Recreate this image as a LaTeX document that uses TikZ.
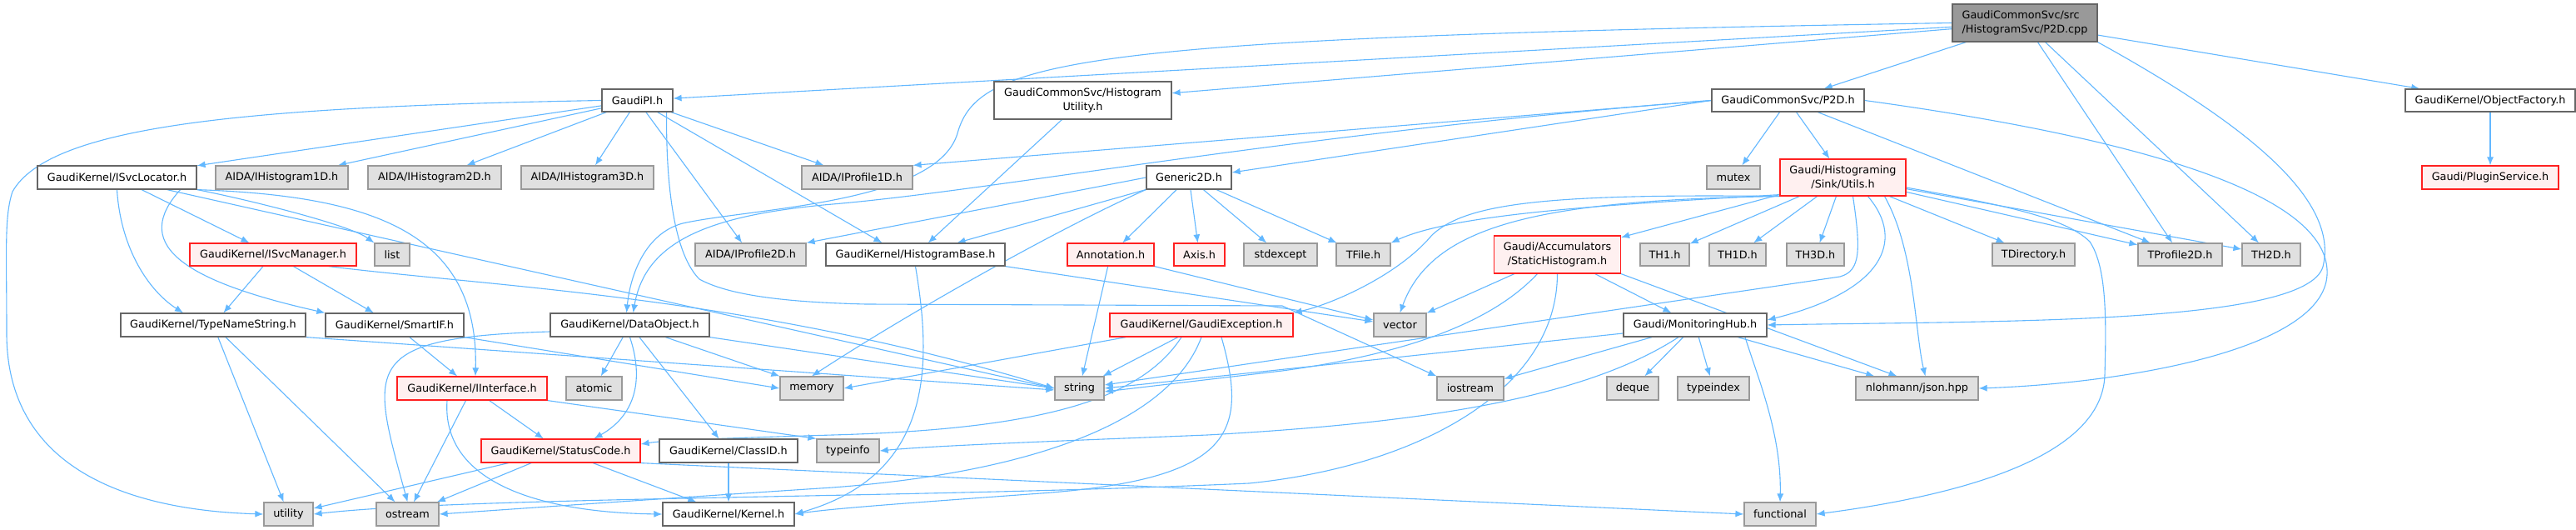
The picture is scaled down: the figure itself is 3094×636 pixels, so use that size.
\documentclass[tikz,border=0pt]{standalone}
\usepackage{fontspec}
\newfontfamily\dfont{DejaVu Sans}
\usetikzlibrary{arrows.meta}
\definecolor{edgec}{HTML}{63B8FF}
\definecolor{nb}{HTML}{666666}
\definecolor{gb}{HTML}{999999}
\definecolor{gf}{HTML}{E0E0E0}
\definecolor{rb}{HTML}{FF2020}
\definecolor{rf}{HTML}{FFF0F0}
\definecolor{rootf}{HTML}{999999}
\pgfdeclarelayer{bg}
\pgfsetlayers{bg,main}
\tikzset{
  base/.style={rectangle, inner sep=0pt, text=black, line width=0.6pt,
    font={\dfont\fontsize{6.4}{8.3}\selectfont}, minimum height=14pt},
  nw/.style={base, draw=nb, fill=white},
  ng/.style={base, draw=gb, fill=gf},
  nr/.style={base, draw=rb, fill=rf},
  nroot/.style={base, draw=nb, fill=rootf, align=left},
  e/.style={draw=edgec, line width=0.55pt, -{Latex[length=5pt,width=4pt]}},
}
\begin{document}
\begin{tikzpicture}[x=0.5pt,y=-0.5pt]
\useasboundingbox (0,0) rectangle (3094,636);
% ---------------- nodes
\node[nroot, minimum width=87pt, minimum height=22.5pt] (root) at (2432,27.5) {GaudiCommonSvc/src\\/HistogramSvc/P2D.cpp};
\node[nw, minimum width=42.5pt, minimum height=13.5pt] (pi) at (765.5,120.5) {GaudiPI.h};
\node[nw, minimum width=106.5pt, minimum height=22.5pt, align=center] (hu) at (1300.5,120.5) {GaudiCommonSvc/Histogram\\Utility.h};
\node[nw, minimum width=91.5pt, minimum height=13.5pt] (p2d) at (2147.5,120.5) {GaudiCommonSvc/P2D.h};
\node[nw, minimum width=102pt, minimum height=13.5pt] (of) at (2991,120.5) {GaudiKernel/ObjectFactory.h};
% row 2
\node[nw, minimum width=95.5pt] (isl) at (140.5,213) {GaudiKernel/ISvcLocator.h};
\node[ng, minimum width=79.5pt] (ih1) at (338.5,213) {AIDA/IHistogram1D.h};
\node[ng, minimum width=80pt] (ih2) at (522,213) {AIDA/IHistogram2D.h};
\node[ng, minimum width=79.5pt] (ih3) at (705.5,213) {AIDA/IHistogram3D.h};
\node[ng, minimum width=66.5pt] (ip1) at (1029.5,213) {AIDA/IProfile1D.h};
\node[nw, minimum width=51pt] (g2d) at (1428,213) {Generic2D.h};
\node[ng, minimum width=32pt] (mutex) at (2082,213) {mutex};
\node[nr, minimum width=75.5pt, minimum height=22pt, align=center] (utils) at (2213.5,213) {Gaudi/Histograming\\/Sink/Utils.h};
\node[nr, minimum width=82pt] (ps) at (2991,213) {Gaudi/PluginService.h};
% row 3
\node[nr, minimum width=100pt, minimum height=13.5pt] (ism) at (328,305.5) {GaudiKernel/ISvcManager.h};
\node[ng, minimum width=21pt, minimum height=13.5pt] (list) at (471,305.5) {list};
\node[ng, minimum width=66.5pt, minimum height=13.5pt] (ip2) at (901.5,305.5) {AIDA/IProfile2D.h};
\node[nw, minimum width=107.5pt, minimum height=13.5pt] (hb) at (1099.5,305.5) {GaudiKernel/HistogramBase.h};
\node[nr, minimum width=52pt, minimum height=13.5pt] (ann) at (1334,305.5) {Annotation.h};
\node[nr, minimum width=30.5pt, minimum height=13.5pt] (axis) at (1440.5,305.5) {Axis.h};
\node[ng, minimum width=44pt, minimum height=13.5pt] (stdexcept) at (1538,305.5) {stdexcept};
\node[ng, minimum width=32.5pt, minimum height=13.5pt] (tfile) at (1637.5,305.5) {TFile.h};
\node[nr, minimum width=76pt, minimum height=22.5pt, align=center] (sh) at (1870.5,305.5) {Gaudi/Accumulators\\/StaticHistogram.h};
\node[ng, minimum width=29.5pt, minimum height=13.5pt] (th1) at (1999.5,305.5) {TH1.h};
\node[ng, minimum width=34pt, minimum height=13.5pt] (th1d) at (2087,305.5) {TH1D.h};
\node[ng, minimum width=34.5pt, minimum height=13.5pt] (th3d) at (2180.5,305.5) {TH3D.h};
\node[ng, minimum width=49.5pt, minimum height=13.5pt] (tdir) at (2442.5,305.5) {TDirectory.h};
\node[ng, minimum width=50.5pt, minimum height=13.5pt] (tp2d) at (2618.5,305.5) {TProfile2D.h};
\node[ng, minimum width=35pt, minimum height=13.5pt] (th2d) at (2728,305.5) {TH2D.h};
% row 4
\node[nw, minimum width=111pt] (tns) at (256,390) {GaudiKernel/TypeNameString.h};
\node[nw, minimum width=83pt] (sif) at (474,390) {GaudiKernel/SmartIF.h};
\node[nw, minimum width=95.5pt] (dobj) at (756.5,390) {GaudiKernel/DataObject.h};
\node[nr, minimum width=110pt] (gex) at (1443,390) {GaudiKernel/GaudiException.h};
\node[ng, minimum width=31.5pt] (vector) at (1681.5,390) {vector};
\node[nw, minimum width=86pt] (mh) at (2036,390) {Gaudi/MonitoringHub.h};
% row 5
\node[nr, minimum width=90pt] (iif) at (567,466) {GaudiKernel/IInterface.h};
\node[ng, minimum width=33.5pt] (atomic) at (713.5,466) {atomic};
\node[ng, minimum width=38pt] (memory) at (975,466) {memory};
\node[ng, minimum width=29.5pt] (string) at (1296.5,466) {string};
\node[ng, minimum width=40pt] (iostream) at (1766,466) {iostream};
\node[ng, minimum width=31pt] (deque) at (1961,466) {deque};
\node[ng, minimum width=43pt] (typeindex) at (2058,466) {typeindex};
\node[ng, minimum width=73.5pt] (json) at (2302.5,466) {nlohmann/json.hpp};
% row 6
\node[nr, minimum width=95.5pt] (sc) at (673.5,541) {GaudiKernel/StatusCode.h};
\node[nw, minimum width=83pt] (cid) at (875,541) {GaudiKernel/ClassID.h};
\node[ng, minimum width=37.5pt] (typeinfo) at (1018.5,541) {typeinfo};
% row 7
\node[ng, minimum width=29.5pt] (utility) at (346.5,617) {utility};
\node[ng, minimum width=37.5pt] (ostream) at (489.5,617) {ostream};
\node[nw, minimum width=79pt] (kern) at (875,617) {GaudiKernel/Kernel.h};
\node[ng, minimum width=43pt] (functional) at (2138,617) {functional};
% ---------------- edges
\begin{pgfonlayer}{bg}
\fill[white] (0,0) rectangle (3094,636);
% root
\draw[e] (root) -- (pi);
\draw[e] (root) -- (hu);
\draw[e] (root.west) .. controls (1300,45) and (1175,70) .. (1150,160) .. controls (1125,245) and (900,250) .. (820,268) .. controls (775,280) and (757,330) .. ([xshift=-2pt]dobj.north);
\draw[e] (root) -- (p2d);
\draw[e] (root) -- (of);
\draw[e] (root) -- (tp2d);
\draw[e] (root) -- (th2d);
\draw[e] (root.south east) .. controls (2700,150) and (2810,240) .. (2790,320) .. controls (2770,390) and (2400,385) .. (mh.east);
% p2d
\draw[e] (p2d.west) -- (ip1.north east);
\draw[e] (p2d.west) -- ([yshift=3pt]g2d.east);
\draw[e] (p2d.west) .. controls (1550,160) and (1200,228) .. (1000,245) .. controls (850,258) and (775,290) .. ([xshift=2pt]dobj.north);
\draw[e] (p2d) -- (mutex);
\draw[e] (p2d) -- (utils);
\draw[e] (p2d) -- (tp2d);
\draw[e] (p2d.east) .. controls (2600,170) and (2800,240) .. (2795,330) .. controls (2790,420) and (2550,460) .. (json.east);
% of
\draw[e] (of) -- (ps);
% pi
\draw[e] (pi) -- (isl);
\draw[e] (pi) -- (ih1);
\draw[e] (pi) -- (ih2);
\draw[e] (pi) -- (ih3);
\draw[e] (pi) -- ([xshift=-20pt]ip1.north);
\draw[e] (pi) -- (ip2);
\draw[e] (pi) -- ([xshift=-20pt]hb.north);
\draw[e] (pi.west) .. controls (300,128) and (60,150) .. (15,230) .. controls (5,260) and (8,300) .. (8,400) .. controls (8,560) and (150,612) .. (utility.west);
\draw[e] ([xshift=-4pt]pi.south east) .. controls (800,200) and (805,300) .. (840,335) .. controls (880,357) and (960,363) .. (1040,365) -- (1540,367) -- (iostream.north west);
% isl
\draw[e] (isl) -- (ism);
\draw[e] (isl.south east) .. controls (300,240) and (420,270) .. (list.north west);
\draw[e] (isl.south) .. controls (145,300) and (180,350) .. ([xshift=-18pt]tns.north);
\draw[e] ([xshift=-10pt]isl.south east) .. controls (160,290) and (210,335) .. (sif.north west);
\draw[e] (isl.south east) .. controls (450,235) and (575,280) .. ([xshift=2pt]iif.north);
\draw[e] ([xshift=30pt]isl.south) -- (string.west);
% ism
\draw[e] (ism) -- (tns);
\draw[e] (ism) -- (sif);
\draw[e] ([xshift=-17pt]ism.south east) .. controls (600,345) and (900,355) .. (string.west);
% tns
\draw[e] (tns) -- (utility);
\draw[e] (tns) -- (ostream);
\draw[e] (tns.south east) -- ([yshift=-1pt]string.west);
% sif
\draw[e] (sif) -- (iif);
\draw[e] (sif.south east) -- (memory.west);
% dobj
\draw[e] (dobj) -- (atomic);
\draw[e] (dobj) -- (memory.north west);
\draw[e] (dobj.south east) -- (string.west);
\draw[e] (dobj.south) .. controls (775,460) and (760,500) .. ([xshift=20pt]sc.north);
\draw[e] (dobj) -- (cid);
\draw[e] ([yshift=-4pt]dobj.west) .. controls (430,405) and (445,440) .. (ostream.north);
% iif
\draw[e] (iif) -- (sc);
\draw[e] (iif) -- (ostream);
\draw[e] ([xshift=-15pt]iif.south) .. controls (530,580) and (650,615) .. (kern.west);
\draw[e] (iif.south east) -- (typeinfo.north west);
% sc
\draw[e] (sc) -- (utility);
\draw[e] (sc) -- (ostream);
\draw[e] (sc) -- (kern);
\draw[e] (sc.south east) -- (functional.west);
% cid
\draw[e] (cid) -- (kern);
% hu
\draw[e] (hu) -- (hb);
% hb
\draw[e] (hb.south) .. controls (1120,440) and (1120,570) .. (kern.east);
\draw[e] (hb.south east) -- ([yshift=2pt]vector.west);
% ann
\draw[e] (ann) -- (string);
\draw[e] (ann.south east) -- ([yshift=3pt]vector.west);
% g2d
\draw[e] (g2d.west) -- (ip2.north east);
\draw[e] (g2d) -- (hb);
\draw[e] (g2d) -- (ann);
\draw[e] (g2d) -- (axis);
\draw[e] (g2d) -- (stdexcept);
\draw[e] (g2d) -- (tfile);
\draw[e] (g2d.south west) .. controls (1280,270) and (1100,370) .. (memory.north);
% gex
\draw[e] ([xshift=10pt]gex.south west) -- (memory.east);
\draw[e] (gex) -- (string);
\draw[e] ([xshift=-12pt]gex.south) .. controls (1370,480) and (1250,515) .. (1000,522) .. controls (900,525) and (800,528) .. ([yshift=4pt]sc.east);
\draw[e] (gex.south) .. controls (1400,520) and (1200,570) .. (1000,585) .. controls (800,598) and (600,612) .. (ostream.east);
\draw[e] ([xshift=12pt]gex.south) .. controls (1500,520) and (1480,575) .. (1250,592) .. controls (1100,603) and (1000,610) .. (kern.east);
% utils
\draw[e] ([yshift=1pt]utils.south west) .. controls (1950,245) and (1750,255) .. (tfile.north east);
\draw[e] (utils) -- (sh);
\draw[e] (utils) -- (th1);
\draw[e] (utils) -- (th1d);
\draw[e] (utils) -- (th3d);
\draw[e] (utils) -- (tdir);
\draw[e] (utils) -- (tp2d);
\draw[e] (utils) -- (th2d);
\draw[e] ([yshift=-6pt]utils.east) .. controls (2400,245) and (2480,260) .. (2510,290) .. controls (2530,320) and (2530,380) .. (2528,450) .. controls (2525,550) and (2350,595) .. (functional.east);
\draw[e] (utils.south west) .. controls (1850,240) and (1720,270) .. (vector.north);
\draw[e] (utils.south west) .. controls (1850,232) and (1760,245) .. (1720,282) .. controls (1680,330) and (1600,365) .. (gex.north east);
\draw[e] ([xshift=6pt]utils.south) .. controls (2235,300) and (2235,325) .. (2210,332) -- ([yshift=2pt]string.east);
\draw[e] ([xshift=15pt]utils.south) .. controls (2290,290) and (2260,350) .. ([yshift=3pt]mh.east);
\draw[e] ([xshift=25pt]utils.south) .. controls (2300,300) and (2300,400) .. ([xshift=5pt]json.north);
% sh
\draw[e] (sh) -- (vector);
\draw[e] (sh) -- (mh);
\draw[e] (sh.south east) -- ([xshift=-12pt]json.north);
\draw[e] ([xshift=-12pt]sh.south) .. controls (1780,400) and (1650,430) .. (1540,445) -- ([yshift=-2pt]string.east);
\draw[e] (sh.south) .. controls (1870,470) and (1700,560) .. (1500,580) .. controls (1100,598) and (560,596) .. (utility.east);
% mh
\draw[e] (mh) -- (iostream);
\draw[e] (mh) -- (deque);
\draw[e] (mh) -- (typeindex);
\draw[e] (mh) -- (json);
\draw[e] ([xshift=30pt]mh.south) .. controls (2110,450) and (2140,520) .. (functional.north);
\draw[e] ([yshift=-5pt]mh.west) -- (string.east);
\draw[e] ([xshift=-10pt]mh.south) .. controls (1900,480) and (1700,508) .. (1450,522) .. controls (1250,530) and (1120,535) .. (typeinfo.east);
\end{pgfonlayer}
\end{tikzpicture}
\end{document}
